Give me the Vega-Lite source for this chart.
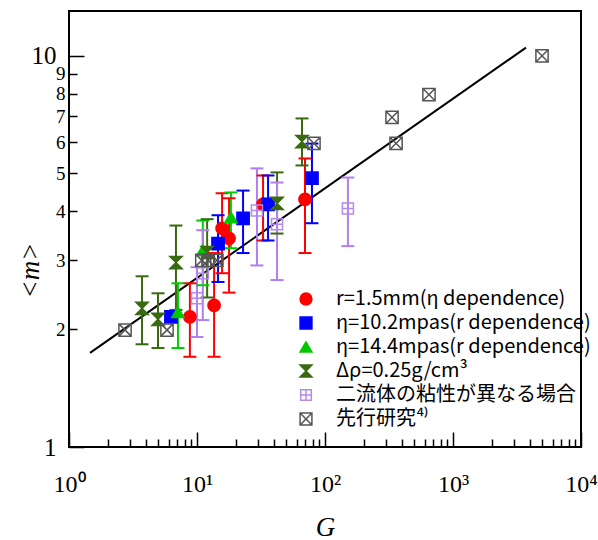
{
  "$schema": "https://vega.github.io/schema/vega-lite/v6.json",
  "width": 512,
  "height": 436,
  "autosize": {"type": "none"},
  "padding": {"left": 69, "top": 11, "right": 17, "bottom": 93},
  "background": "white",
  "config": {"view": {"stroke": "black", "strokeWidth": 2}},
  "datasets": {
    "fit": [{"G": 1.46, "m": 1.74}, {"G": 3717, "m": 10.48}],
    "pts": [
      {"s": "r=1.5mm(η dependence)", "G": 8.8, "m": 2.15, "lo": 1.70, "hi": 2.62},
      {"s": "r=1.5mm(η dependence)", "G": 13.6, "m": 2.30, "lo": 1.70, "hi": 3.13},
      {"s": "r=1.5mm(η dependence)", "G": 15.7, "m": 3.62, "lo": 2.78, "hi": 4.45},
      {"s": "r=1.5mm(η dependence)", "G": 17.8, "m": 3.41, "lo": 2.48, "hi": 4.32},
      {"s": "r=1.5mm(η dependence)", "G": 32.8, "m": 4.17, "lo": 3.37, "hi": 4.94},
      {"s": "r=1.5mm(η dependence)", "G": 69.8, "m": 4.29, "lo": 3.13, "hi": 5.46},
      {"s": "η=10.2mpas(r dependence)", "G": 6.26, "m": 2.15, "lo": null, "hi": null},
      {"s": "η=10.2mpas(r dependence)", "G": 14.6, "m": 3.31, "lo": 2.64, "hi": 3.91},
      {"s": "η=10.2mpas(r dependence)", "G": 22.9, "m": 3.84, "lo": 3.13, "hi": 4.52},
      {"s": "η=10.2mpas(r dependence)", "G": 35.9, "m": 4.17, "lo": 3.37, "hi": 4.94},
      {"s": "η=10.2mpas(r dependence)", "G": 79.1, "m": 4.86, "lo": 3.73, "hi": 5.96},
      {"s": "η=14.4mpas(r dependence)", "G": 7.1, "m": 2.21, "lo": 1.79, "hi": 2.62},
      {"s": "η=14.4mpas(r dependence)", "G": 11.1, "m": 3.18, "lo": 2.59, "hi": 3.79},
      {"s": "η=14.4mpas(r dependence)", "G": 18.4, "m": 3.86, "lo": 3.22, "hi": 4.47},
      {"s": "Δρ=0.25g/cm³", "G": 3.72, "m": 2.26, "lo": 1.83, "hi": 2.73},
      {"s": "Δρ=0.25g/cm³", "G": 4.96, "m": 2.12, "lo": 1.79, "hi": 2.47},
      {"s": "Δρ=0.25g/cm³", "G": 6.85, "m": 2.96, "lo": 2.24, "hi": 3.68},
      {"s": "Δρ=0.25g/cm³", "G": 12.0, "m": 3.14, "lo": 2.41, "hi": 3.82},
      {"s": "Δρ=0.25g/cm³", "G": 42.2, "m": 4.19, "lo": 3.51, "hi": 5.03},
      {"s": "Δρ=0.25g/cm³", "G": 66.1, "m": 6.03, "lo": 5.24, "hi": 6.91},
      {"s": "二流体の粘性が異なる場合", "G": 10.0, "m": 2.40, "lo": 1.91, "hi": 2.88},
      {"s": "二流体の粘性が異なる場合", "G": 11.1, "m": 2.78, "lo": 2.11, "hi": 3.58},
      {"s": "二流体の粘性が異なる場合", "G": 29.4, "m": 4.02, "lo": 2.91, "hi": 5.15},
      {"s": "二流体の粘性が異なる場合", "G": 42.2, "m": 3.71, "lo": 2.67, "hi": 4.74},
      {"s": "二流体の粘性が異なる場合", "G": 151, "m": 4.07, "lo": 3.26, "hi": 4.88},
      {"s": "先行研究⁴⁾", "G": 2.74, "m": 1.99, "lo": null, "hi": null},
      {"s": "先行研究⁴⁾", "G": 5.83, "m": 1.99, "lo": null, "hi": null},
      {"s": "先行研究⁴⁾", "G": 10.9, "m": 3.0, "lo": null, "hi": null},
      {"s": "先行研究⁴⁾", "G": 12.2, "m": 3.0, "lo": null, "hi": null},
      {"s": "先行研究⁴⁾", "G": 14.3, "m": 3.0, "lo": null, "hi": null},
      {"s": "先行研究⁴⁾", "G": 82, "m": 5.97, "lo": null, "hi": null},
      {"s": "先行研究⁴⁾", "G": 334, "m": 6.95, "lo": null, "hi": null},
      {"s": "先行研究⁴⁾", "G": 359, "m": 5.97, "lo": null, "hi": null},
      {"s": "先行研究⁴⁾", "G": 649, "m": 7.95, "lo": null, "hi": null},
      {"s": "先行研究⁴⁾", "G": 4960, "m": 9.98, "lo": null, "hi": null}
    ]
  },
  "layer": [
    {
      "data": {"name": "fit"},
      "mark": {"type": "line", "color": "black", "strokeWidth": 2},
      "encoding": {
        "x": {
          "field": "G", "type": "quantitative",
          "scale": {"type": "log", "domain": [1, 10000], "nice": false, "zero": false},
          "axis": {
            "title": "G",
            "titleFont": "Liberation Serif", "titleFontSize": 27, "titleFontStyle": "italic", "titleFontWeight": "normal", "titleColor": "black",
            "titleBaseline": "middle", "titleY": 80,
            "values": [1,2,3,4,5,6,7,8,9,10,20,30,40,50,60,70,80,90,100,200,300,400,500,600,700,800,900,1000,2000,3000,4000,5000,6000,7000,8000,9000,10000],
            "labelExpr": "datum.value == 1 ? '10⁰' : datum.value == 10 ? '10¹' : datum.value == 100 ? '10²' : datum.value == 1000 ? '10³' : datum.value == 10000 ? '10⁴' : ''",
            "labelFont": "Liberation Serif", "labelFontSize": 24, "labelColor": "black",
            "labelPadding": 40, "labelFlush": false, "labelOverlap": false,
            "domain": false, "grid": false,
            "tickColor": "black", "tickWidth": 1.5,
            "tickSize": {"condition": {"test": "datum.value == 1 || datum.value == 10 || datum.value == 100 || datum.value == 1000 || datum.value == 10000", "value": -15}, "value": -8}
          }
        },
        "y": {
          "field": "m", "type": "quantitative",
          "scale": {"type": "log", "domain": [1, 13], "nice": false, "zero": false},
          "axis": {
            "title": "<m>",
            "titleFont": "Liberation Serif", "titleFontSize": 27, "titleFontStyle": "italic", "titleFontWeight": "normal", "titleColor": "black",
            "titleAngle": -90, "titleBaseline": "middle", "titleAlign": "center", "titleX": -39, "titleY": 259,
            "values": [1,2,3,4,5,6,7,8,9,10],
            "labelExpr": "format(datum.value, 'd')",
            "labelFont": "Liberation Serif", "labelColor": "black",
            "labelFontSize": {"condition": {"test": "datum.value == 1 || datum.value == 10", "value": 25}, "value": 19},
            "labelPadding": {"condition": {"test": "datum.value == 1 || datum.value == 10", "value": 28}, "value": 12},
            "labelFlush": false, "labelOverlap": false,
            "domain": false, "grid": false,
            "tickColor": "black", "tickWidth": 1.5,
            "tickSize": {"condition": {"test": "datum.value == 1 || datum.value == 10", "value": -15}, "value": -8}
          }
        }
      }
    },
    {
      "data": {"name": "pts"},
      "mark": {"type": "rule", "strokeWidth": 2, "opacity": 1},
      "encoding": {
        "x": {"field": "G", "type": "quantitative"},
        "y": {"field": "lo", "type": "quantitative"},
        "y2": {"field": "hi"},
        "color": {
          "field": "s", "type": "nominal", "legend": null,
          "scale": {"domain": ["先行研究⁴⁾", "二流体の粘性が異なる場合", "Δρ=0.25g/cm³", "η=14.4mpas(r dependence)", "η=10.2mpas(r dependence)", "r=1.5mm(η dependence)"],
                    "range": ["#666666", "#b07ff0", "#3a6a10", "#00cc00", "#0000ff", "#ff0000"]}
        }
      }
    },
    {
      "data": {"name": "pts"},
      "mark": {"type": "tick", "orient": "horizontal", "size": 13, "thickness": 2, "opacity": 1},
      "encoding": {
        "x": {"field": "G", "type": "quantitative"},
        "y": {"field": "lo", "type": "quantitative"},
        "color": {"field": "s", "type": "nominal", "legend": null}
      }
    },
    {
      "data": {"name": "pts"},
      "mark": {"type": "tick", "orient": "horizontal", "size": 13, "thickness": 2, "opacity": 1},
      "encoding": {
        "x": {"field": "G", "type": "quantitative"},
        "y": {"field": "hi", "type": "quantitative"},
        "color": {"field": "s", "type": "nominal", "legend": null}
      }
    },
    {
      "data": {"name": "pts"},
      "mark": {"type": "point", "size": 150, "strokeWidth": 1.5, "opacity": 1},
      "encoding": {
        "x": {"field": "G", "type": "quantitative"},
        "y": {"field": "m", "type": "quantitative"},
        "shape": {
          "field": "s", "type": "nominal",
          "scale": {"domain": ["r=1.5mm(η dependence)", "η=10.2mpas(r dependence)", "η=14.4mpas(r dependence)", "Δρ=0.25g/cm³", "二流体の粘性が異なる場合", "先行研究⁴⁾"],
                    "range": ["circle", "square", "triangle-up", "M-1,-1L1,-1L0,0L1,1L-1,1L0,0Z", "M-0.9,-0.9H0.9V0.9H-0.9ZM0,-0.9V0.9M-0.9,0H0.9", "M-1,-1H1V1H-1ZM-1,-1L1,1M1,-1L-1,1"]},
          "legend": {"orient": "none", "legendX": 227, "legendY": 278, "title": null, "padding": 0,
                     "labelFont": "Noto Sans CJK JP", "labelFontSize": 20, "labelColor": "black", "labelLimit": 500,
                     "symbolSize": 140, "symbolStrokeWidth": 1.5, "rowPadding": 4, "labelOffset": 20, "symbolOpacity": 1}
        },
        "fill": {
          "field": "s", "type": "nominal",
          "scale": {"domain": ["r=1.5mm(η dependence)", "η=10.2mpas(r dependence)", "η=14.4mpas(r dependence)", "Δρ=0.25g/cm³", "二流体の粘性が異なる場合", "先行研究⁴⁾"],
                    "range": ["#ff0000", "#0000ff", "#00c800", "#3a6a10", "transparent", "transparent"]},
          "legend": {"orient": "none", "legendX": 227, "legendY": 278, "title": null, "padding": 0,
                     "labelFont": "Noto Sans CJK JP", "labelFontSize": 20, "labelColor": "black", "labelLimit": 500,
                     "symbolSize": 140, "symbolStrokeWidth": 1.5, "rowPadding": 4, "labelOffset": 20, "symbolOpacity": 1}
        },
        "stroke": {
          "field": "s", "type": "nominal",
          "scale": {"domain": ["r=1.5mm(η dependence)", "η=10.2mpas(r dependence)", "η=14.4mpas(r dependence)", "Δρ=0.25g/cm³", "二流体の粘性が異なる場合", "先行研究⁴⁾"],
                    "range": ["#ff0000", "#0000ff", "#00c800", "#3a6a10", "#b48ae8", "#555555"]},
          "legend": {"orient": "none", "legendX": 227, "legendY": 278, "title": null, "padding": 0,
                     "labelFont": "Noto Sans CJK JP", "labelFontSize": 20, "labelColor": "black", "labelLimit": 500,
                     "symbolSize": 140, "symbolStrokeWidth": 1.5, "rowPadding": 4, "labelOffset": 20, "symbolOpacity": 1}
        }
      }
    }
  ]
}
